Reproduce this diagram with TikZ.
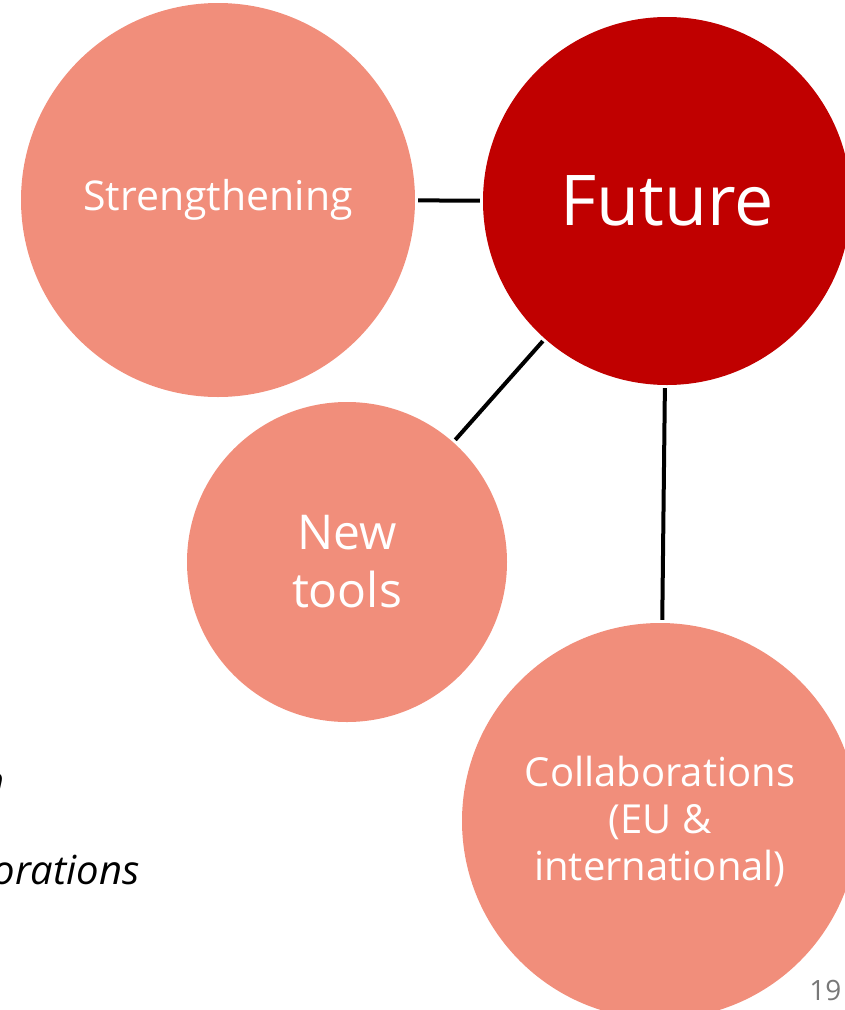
\documentclass[tikz,border=0pt]{standalone}
\usepackage{fontspec}
\setmainfont{Open Sans}
\usepackage{tikz}
\definecolor{salmon}{RGB}{241,142,123}
\definecolor{darkred}{RGB}{192,0,0}
\definecolor{pagegray}{RGB}{120,120,120}

\begin{document}
\begin{tikzpicture}[x=1pt, y=-1pt,
    bubble/.style={circle, fill=salmon, text=white, inner sep=0pt, align=center, font=\fontsize{40}{47}\selectfont},
    link/.style={line width=4pt, black, shorten <=3pt, shorten >=3pt}]

    \clip (0,0) rectangle (845,1010);

    % bubbles
    \node[bubble, minimum size=394pt, font=\fontsize{41}{47}\selectfont] (strength) at (218,200) {Strengthening};
    \node[bubble, minimum size=368pt, fill=darkred, font=\fontsize{70}{80}\selectfont] (future) at (667,201) {Future};
    \node[bubble, minimum size=320pt, font=\fontsize{48}{58}\selectfont] (tools) at (347,562) {New\\tools};
    \node[bubble, minimum size=396pt] (collab) at (660,821) {Collaborations\\(EU \&\\international)};

    % links to Future
    \draw[link] (strength) -- (future);
    \draw[link] (tools) -- (future);
    \draw[link] (future) -- (collab);

    % cut-off slide text on the left
    \node[anchor=base east, font=\itshape\fontsize{40}{47}\selectfont] (cutn) at (8,795) {n};
    \node[anchor=base west, font=\itshape\fontsize{40}{47}\selectfont] (cutcollab) at (-11,884) {orations};

    % page number
    \node[anchor=base east, text=pagegray, font=\fontsize{28}{32}\selectfont] (pagenum) at (845,1000) {19};

\end{tikzpicture}
\end{document}
